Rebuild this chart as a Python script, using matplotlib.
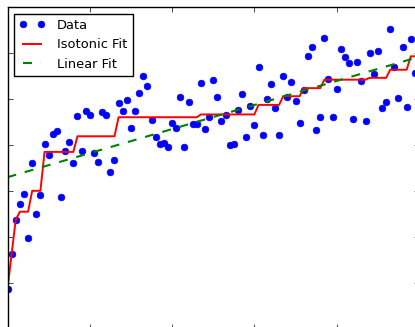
import numpy as np
import matplotlib
matplotlib.use("Agg")
import matplotlib.pyplot as plt

# data: one observation per x = 0..99
x = np.arange(100)
y = [-6.5, 31.5, 68.8, 86.2, 97.0, 48.6, 130.0, 74.7, 95.7, 151.5,
     139.5, 161.6, 165.2, 94.0, 143.0, 153.0, 130.0, 181.0, 143.0, 187.0,
     182.6, 141.0, 131.8, 185.5, 182.6, 121.0, 134.0, 196.0, 187.0, 199.0,
     168.0, 187.3, 206.0, 225.0, 214.5, 177.0, 159.0, 151.0, 151.8, 148.0,
     174.0, 169.0, 202.5, 148.0, 197.0, 173.0, 173.0, 217.0, 167.0, 180.0,
     220.7, 201.8, 176.0, 182.6, 150.0, 151.0, 188.0, 205.4, 158.4, 192.4,
     171.7, 235.0, 161.0, 199.6, 216.3, 189.9, 161.0, 225.4, 201.8, 218.8,
     197.8, 174.2, 209.8, 246.7, 256.2, 166.3, 180.8, 266.7, 221.4, 180.8,
     210.9, 254.0, 245.3, 239.5, 178.0, 239.9, 219.6, 176.4, 249.7, 227.2,
     252.5, 190.6, 196.4, 275.7, 235.0, 200.8, 256.9, 191.7, 264.9, 227.9]

iso_levels = [-6.5, 31.5, 68.8, 77.5, 100.2, 142.5, 159.5, 180.2,
              183.2, 193.6, 203.0, 211.8, 221.0, 223.0, 231.8, 246.4]
iso_runs = [1, 1, 1, 3, 3, 8, 10, 20, 14, 6, 5, 5, 11, 5, 5, 2]

# linear fit end points
lin_x = [0, 99]
lin_y = [115.0, 244.5]

iso_y = np.repeat(iso_levels, iso_runs)

fig = plt.figure(figsize=(4.15, 3.27), dpi=100, facecolor="white")
# the picture is a crop: axes run slightly past the right and bottom edges
ax = fig.add_axes([7.5 / 415, -2.0 / 327, 411.5 / 415, 322.0 / 327])

ax.plot(x, y, "o", color="blue", markersize=4.8, markeredgewidth=0.5,
        markeredgecolor="blue", label="Data")
ax.plot(x, iso_y, "-", color="red", linewidth=1.4, label="Isotonic Fit")
ax.plot(lin_x, lin_y, "--", color="green", linewidth=1.5, dashes=(4.3, 4.3),
        label="Linear Fit")

ax.set_xlim(0, 100)
ax.set_ylim(-50, 300)
ax.set_xticks(range(0, 101, 20))
ax.set_yticks(range(-50, 301, 50))
ax.tick_params(direction="in", length=3.5, width=0.5, top=True, right=True,
               labelleft=False, labelbottom=False)
for s in ax.spines.values():
    s.set_linewidth(1.0)

leg = ax.legend(loc="upper left", numpoints=2, fontsize=9.4, fancybox=False,
                framealpha=1, edgecolor="black", handlelength=2.0,
                handletextpad=0.9, borderaxespad=0.5, labelspacing=0.5)
leg.get_frame().set_linewidth(1.0)

fig.savefig("out.png", dpi=100, facecolor="white")
